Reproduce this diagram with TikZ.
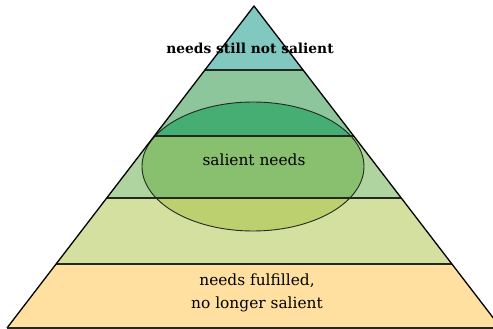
\documentclass[tikz,border=0pt]{standalone}
\usepackage{fontspec}
\setmainfont{DejaVu Serif}
\definecolor{cTop}{RGB}{128,200,192}
\definecolor{cTwo}{RGB}{140,198,154}
\definecolor{cTwoIn}{RGB}{70,174,114}
\definecolor{cThree}{RGB}{176,212,160}
\definecolor{cThreeIn}{RGB}{136,192,112}
\definecolor{cFour}{RGB}{212,224,160}
\definecolor{cFourIn}{RGB}{188,208,112}
\definecolor{cBase}{RGB}{255,224,160}
\definecolor{cLine}{RGB}{34,40,34}
\tikzset{
  divider/.style={draw=cLine,line width=1.9pt},
  edge/.style={draw=black,line width=1.3pt,line join=round},
  oval/.style={draw=cLine,line width=0.9pt},
  lbl/.style={font=\fontsize{15.4}{23}\selectfont,align=center,inner sep=0pt},
}
\begin{document}
\begin{tikzpicture}[x=1pt,y=-1pt]
\useasboundingbox (0,0) rectangle (493,329);
\coordinate (apex) at (254,6);
\coordinate (bl) at (7,328);
\coordinate (br) at (501,328);
\begin{scope}
  \clip (0,0) rectangle (493,329);
  \begin{scope}
    \clip (apex) -- (bl) -- (br) -- cycle;
    \fill[cTop] (0,0) rectangle (500,70);
    \fill[cTwo] (0,70) rectangle (500,136);
    \fill[cThree] (0,136) rectangle (500,198);
    \fill[cFour] (0,198) rectangle (500,264);
    \fill[cBase] (0,264) rectangle (510,330);
    \begin{scope}
      \clip (253,166.5) ellipse [x radius=111, y radius=64.5];
      \fill[cTwoIn] (0,70) rectangle (500,136);
      \fill[cThreeIn] (0,136) rectangle (500,198);
      \fill[cFourIn] (0,198) rectangle (500,264);
    \end{scope}
    \draw[oval] (253,166.5) ellipse [x radius=111, y radius=64.5];
    \draw[divider] (0,70) -- (500,70);
    \draw[divider] (0,136) -- (500,136);
    \draw[divider] (0,198) -- (500,198);
    \draw[divider] (0,264) -- (500,264);
  \end{scope}
  \draw[edge] (br) -- (apex) -- (bl);
  \draw[divider,line width=2.2pt] (bl) -- (br);
\end{scope}
\node[lbl,font=\fontsize{13.8}{17}\selectfont\bfseries] (top) at (250,48) {needs still not salient};
\node[lbl] (mid) at (254,160) {salient needs};
\node[lbl] (low) at (257,293) {needs fulfilled,\\no longer salient};
\end{tikzpicture}
\end{document}
